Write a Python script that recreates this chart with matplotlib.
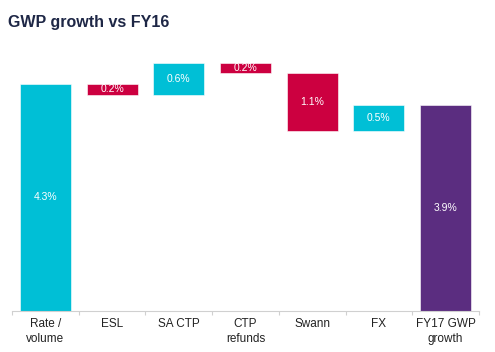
import numpy as np
import matplotlib.pyplot as plt

plt.rcParams["font.family"] = ["Liberation Sans", "DejaVu Sans"]

categories = ["Rate /\nvolume", "ESL", "SA CTP", "CTP\nrefunds", "Swann", "FX", "FY17 GWP\ngrowth"]
changes = [4.3, -0.2, 0.6, -0.2, -1.1, 0.5, 3.9]
is_total = [False, False, False, False, False, False, True]

TEAL = "#00BFD6"
RED = "#CC0040"
PURPLE = "#5B2D80"

fig = plt.figure(figsize=(4.95, 3.52), dpi=100)
ax = fig.add_axes([12 / 495, (352 - 311) / 352, 467 / 495, 261 / 352])

x = np.arange(len(categories))
running = 0.0
for i, (c, tot) in enumerate(zip(changes, is_total)):
    if tot:
        bottom, height, color = 0.0, c, PURPLE
    else:
        bottom = running if c >= 0 else running + c
        height = abs(c)
        color = TEAL if c >= 0 else RED
        running += c
    ax.bar(x[i], height, bottom=bottom, width=0.765, color=color,
           edgecolor="white", linewidth=0.4)
    ax.text(x[i], bottom + height / 2, f"{abs(c):.1f}%", ha="center", va="center",
            color="white", fontsize=7.5)

ax.set_xlim(-0.5, len(categories) - 0.5)
ax.set_ylim(0, 261 / 52.8)
for s in ["top", "right", "left"]:
    ax.spines[s].set_visible(False)
ax.spines["bottom"].set_color("#d0d0d0")
ax.set_yticks([])
ax.set_xticks(x)
ax.set_xticklabels(categories, fontsize=8.5, color="#222222", linespacing=1.35)
ax.set_xticks(np.arange(len(categories) + 1) - 0.5, minor=True)
ax.tick_params(axis="x", which="major", length=0, pad=5)
ax.tick_params(axis="x", which="minor", length=3, color="#d0d0d0", width=0.8)

fig.text(8 / 495, 1 - 22 / 352, "GWP growth vs FY16", fontsize=11.5, fontweight="bold",
         color="#1E2746", va="center")

fig.savefig("out.png", dpi=100)
